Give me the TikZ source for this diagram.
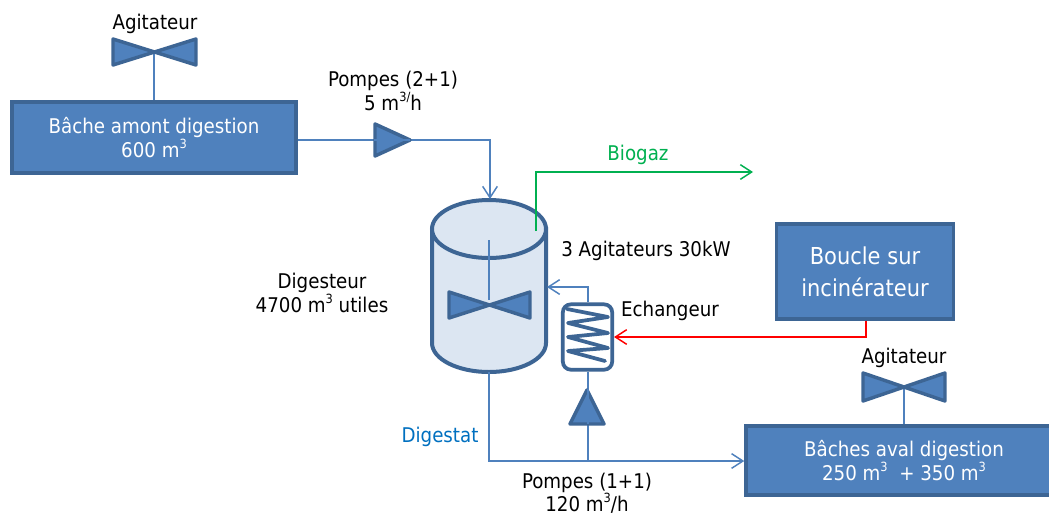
\documentclass[tikz,border=0pt]{standalone}
\usepackage{fontspec}
\setmainfont{DejaVu Sans Condensed}
\usetikzlibrary{arrows.meta}
\definecolor{boxfill}{HTML}{4F81BD}
\definecolor{boxline}{HTML}{3D6594}
\definecolor{pipe}{HTML}{4F81BD}
\definecolor{tank}{HTML}{DCE6F2}
\definecolor{gaz}{HTML}{00B050}
\definecolor{digest}{HTML}{0070C0}
\newcommand{\supr}[1]{\raisebox{0.42em}{\fontsize{9.5}{9.5}\selectfont #1}}
\tikzset{
  px/.style={x=0.75pt,y=-0.75pt},
  tbox/.style={draw=boxline,fill=boxfill,line width=2.6pt,text=white,align=center,inner sep=0pt,font=\fontsize{15.2}{17.5}\selectfont},
  lab/.style={align=center,inner sep=0pt,font=\fontsize{15.2}{17.5}\selectfont},
  sym/.style={draw=boxline,fill=boxfill,line width=2.6pt,line join=round},
  conn/.style={draw=pipe,line width=1.5pt},
  barb/.style={-{Straight Barb[length=8.5pt,width=11pt,line width=1.1pt]}},
}
\begin{document}
\begin{tikzpicture}[px]
\clip (0,0) rectangle (1049,515);
\path[fill=white] (0,0) rectangle (1049,515);
% boxes
\node[tbox,minimum width=213pt,minimum height=53pt] (amont) at (154,137.5) {Bâche amont digestion\\600 m\supr{3}};
\node[tbox,minimum width=133pt,minimum height=71pt,font=\fontsize{17.5}{24}\selectfont] (boucle) at (865,271.5) {Boucle sur\\incinérateur};
\node[tbox,minimum width=237pt,minimum height=52pt] (aval) at (904,460.5) {Bâches aval digestion\\250 m\supr{3}\ \ + 350 m\supr{3}};
% agitators coordinates
\coordinate (ag1) at (154,51);
\coordinate (ag2) at (490,305);
\coordinate (ag3) at (904,387);
\coordinate (p1) at (392,140);
\coordinate (p2) at (587,407);
% tank
\coordinate (tanktop) at (490,199);
\coordinate (tankbot) at (489,372);
\coordinate (tankside) at (547,287);
\coordinate (gazstart) at (536,231);
\path[fill=tank,draw=boxline,line width=3pt] (432,229) -- (432,343) arc[start angle=180,end angle=0,x radius=57,y radius=29] -- (546,229) -- cycle;
\path[fill=tank,draw=boxline,line width=3pt] (489,229) ellipse[x radius=57,y radius=29];
% exchanger
\node[draw=boxline,fill=white,line width=2.8pt,rounded corners=6pt,minimum width=37pt,minimum height=49pt,inner sep=0pt] (ech) at (587.5,337) {};
\draw[boxline,line width=2.8pt,line join=round,line cap=round] (567,309) -- (608,317) -- (568,323) -- (608,333) -- (568,337) -- (608,348) -- (568,351) -- (605,361);
% connectors
\draw[conn] (amont.east |- p1) -- (p1);
\draw[conn,barb] (p1) -- (490,140) -- (tanktop);
\draw[conn] (ag1) -- (ag1 |- amont.north);
\draw[conn] (ag3) -- (ag3 |- aval.north);
\draw[conn] (489,240) -- (489,300);
\draw[conn,barb] (ech.north) -- (587.5,287) -- (tankside);
\draw[conn] (tankbot) -- (489,461) -- (587.5,461);
\draw[conn] (ech.south) -- (587.5,461);
\draw[conn,barb] (587.5,461) -- (aval.west |- 587.5,461);
\draw[draw=gaz,line width=1.5pt,barb] (gazstart) -- (536,172) -- (753,172);
\draw[draw=red,line width=1.5pt,barb] (boucle.south -| 866,0) -- (866,337) -- (ech.east |- 866,337);
% symbols
\draw[sym] (113,39) -- (196,65) -- (196,39) -- (113,65) -- cycle;
\draw[sym] (449,292) -- (530,318) -- (530,292) -- (449,318) -- cycle;
\draw[sym] (863,373) -- (945,401) -- (945,373) -- (863,401) -- cycle;
\draw[sym] (375,124) -- (410,140) -- (375,156) -- cycle;
\draw[sym] (587,390) -- (604,424) -- (570,424) -- cycle;
\draw[conn] (374,140) -- (410,140);
\draw[conn] (587.5,389) -- (587.5,424);
% labels
\node[lab] (t1) at (155,24) {Agitateur};
\node[lab] (t2) at (393,91) {Pompes (2+1)\\5 m\supr{3/}h};
\node[lab,text=gaz] (t3) at (638,155) {Biogaz};
\node[lab] (t4) at (646,251) {3 Agitateurs 30kW};
\node[lab] (t5) at (322,293) {Digesteur\\4700 m\supr{3} utiles};
\node[lab] (t6) at (670,311) {Echangeur};
\node[lab] (t7) at (904,358) {Agitateur};
\node[lab,text=digest] (t8) at (440,437) {Digestat};
\node[lab] (t9) at (587,493) {Pompes (1+1)\\120 m\supr{3}/h};
\end{tikzpicture}
\end{document}
